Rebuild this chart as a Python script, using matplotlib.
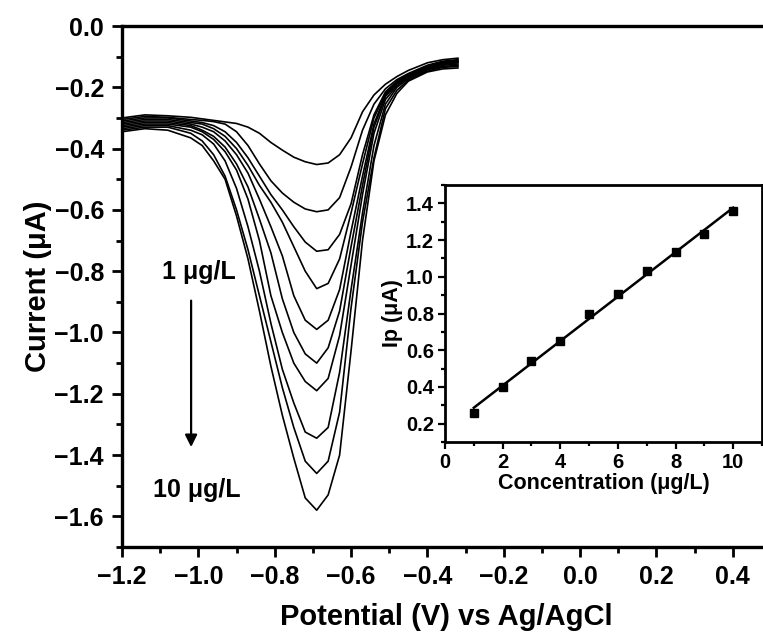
import matplotlib
matplotlib.use("Agg")
import matplotlib.pyplot as plt
import numpy as np
from matplotlib.ticker import MultipleLocator

plt.rcParams['font.family'] = ['Liberation Sans', 'DejaVu Sans']
plt.rcParams['font.weight'] = 'bold'
plt.rcParams['axes.labelweight'] = 'bold'

# potential grid (V vs Ag/AgCl)
potential = [-1.2, -1.14, -1.08, -1.02, -0.99, -0.96, -0.93, -0.90, -0.87, -0.84, -0.81, -0.78, -0.75,
             -0.72, -0.69, -0.66, -0.63, -0.60, -0.57, -0.54, -0.51, -0.48, -0.45, -0.40, -0.36, -0.32]

# DPV currents (uA), 1 ug/L ... 10 ug/L
c1 = [-0.300, -0.290, -0.293, -0.298, -0.303, -0.308, -0.313, -0.318, -0.330, -0.350, -0.380, -0.405, -0.428,
      -0.443, -0.452, -0.447, -0.420, -0.365, -0.280, -0.225, -0.190, -0.165, -0.145, -0.120, -0.110, -0.105]
c2 = [-0.305, -0.295, -0.298, -0.305, -0.308, -0.312, -0.320, -0.345, -0.390, -0.450, -0.505, -0.545, -0.575,
      -0.597, -0.606, -0.600, -0.560, -0.460, -0.340, -0.255, -0.205, -0.175, -0.155, -0.128, -0.115, -0.110]
c3 = [-0.310, -0.300, -0.300, -0.310, -0.315, -0.325, -0.345, -0.380, -0.430, -0.490, -0.550, -0.600, -0.655,
      -0.705, -0.735, -0.730, -0.680, -0.580, -0.420, -0.290, -0.215, -0.180, -0.158, -0.130, -0.117, -0.112]
c4 = [-0.315, -0.305, -0.305, -0.315, -0.320, -0.335, -0.360, -0.400, -0.455, -0.520, -0.575, -0.640, -0.720,
      -0.800, -0.857, -0.840, -0.760, -0.610, -0.450, -0.300, -0.220, -0.183, -0.160, -0.133, -0.120, -0.115]
c5 = [-0.320, -0.310, -0.310, -0.320, -0.330, -0.345, -0.375, -0.420, -0.480, -0.565, -0.655, -0.750, -0.880,
      -0.960, -0.990, -0.960, -0.860, -0.670, -0.490, -0.320, -0.225, -0.187, -0.162, -0.135, -0.123, -0.118]
c6 = [-0.325, -0.315, -0.315, -0.325, -0.340, -0.360, -0.395, -0.450, -0.525, -0.630, -0.740, -0.890, -1.000,
      -1.070, -1.100, -1.050, -0.930, -0.720, -0.520, -0.330, -0.230, -0.190, -0.165, -0.137, -0.125, -0.120]
c7 = [-0.330, -0.320, -0.320, -0.330, -0.345, -0.370, -0.410, -0.470, -0.565, -0.700, -0.880, -1.000, -1.100,
      -1.160, -1.190, -1.150, -1.010, -0.780, -0.550, -0.350, -0.240, -0.195, -0.168, -0.140, -0.128, -0.124]
c8 = [-0.335, -0.325, -0.325, -0.340, -0.355, -0.385, -0.440, -0.530, -0.655, -0.800, -0.970, -1.120, -1.230,
      -1.325, -1.345, -1.310, -1.130, -0.860, -0.610, -0.390, -0.255, -0.200, -0.172, -0.143, -0.132, -0.128]
c9 = [-0.340, -0.330, -0.330, -0.350, -0.375, -0.420, -0.490, -0.600, -0.730, -0.880, -1.030, -1.180, -1.310,
      -1.420, -1.460, -1.420, -1.260, -0.920, -0.640, -0.430, -0.270, -0.210, -0.176, -0.147, -0.135, -0.132]
c10 = [-0.345, -0.335, -0.340, -0.365, -0.390, -0.440, -0.500, -0.620, -0.760, -0.930, -1.110, -1.270, -1.410,
       -1.540, -1.580, -1.530, -1.400, -1.060, -0.700, -0.440, -0.290, -0.220, -0.180, -0.150, -0.140, -0.137]
curves = [c1, c2, c3, c4, c5, c6, c7, c8, c9, c10]

# calibration inset
conc = [1, 2, 3, 4, 5, 6, 7, 8, 9, 10]
ip = [0.26, 0.40, 0.54, 0.65, 0.797, 0.907, 1.03, 1.137, 1.235, 1.36]

fig = plt.figure(figsize=(7.63, 6.42), dpi=100)
W, H = 763, 642
ax = fig.add_axes([122 / W, 1 - 547 / H, (771 - 122) / W, (547 - 26) / H])

for c in curves:
    ax.plot(potential, c, color='black', lw=1.2)

ax.set_xlim(-1.2, 0.5)
ax.set_ylim(-1.7, 0.0)
ax.xaxis.set_major_locator(MultipleLocator(0.2))
ax.xaxis.set_minor_locator(MultipleLocator(0.1))
ax.yaxis.set_major_locator(MultipleLocator(0.2))
ax.yaxis.set_minor_locator(MultipleLocator(0.1))
ax.tick_params(which='both', direction='out', width=2.0, labelsize=18, top=False, right=False)
ax.tick_params(which='major', length=7, pad=6)
ax.tick_params(which='minor', length=4)
for s in ax.spines.values():
    s.set_linewidth(2.4)
ax.set_xlabel('Potential (V) vs Ag/AgCl', fontsize=21, labelpad=10)
ax.set_ylabel('Current (\u03bcA)', fontsize=21, labelpad=2)

ax.text(-0.998, -0.803, '1 \u03bcg/L', fontsize=18, ha='center', va='center')
ax.text(-1.005, -1.514, '10 \u03bcg/L', fontsize=18, ha='center', va='center')
ax.annotate('', xy=(-1.019, -1.383), xytext=(-1.019, -0.887),
            arrowprops=dict(arrowstyle='-|>', color='black', lw=1.6, mutation_scale=18))

# inset
axi = fig.add_axes([445 / W, 1 - 442 / H, (762 - 445) / W, (442 - 185) / H])
slope, icpt = np.polyfit(conc, ip, 1)
xf = np.array([conc[0], conc[-1]])
axi.plot(xf, slope * xf + icpt, color='black', lw=1.8)
axi.plot(conc, ip, 's', color='black', ms=5.5)
axi.set_xlim(0, 11)
axi.set_ylim(0.1, 1.5)
axi.xaxis.set_major_locator(MultipleLocator(2))
axi.xaxis.set_minor_locator(MultipleLocator(1))
axi.yaxis.set_major_locator(MultipleLocator(0.2))
axi.yaxis.set_minor_locator(MultipleLocator(0.1))
axi.tick_params(which='both', direction='out', width=1.6, labelsize=14.5, top=False, right=False)
axi.tick_params(which='major', length=5, pad=3)
axi.tick_params(which='minor', length=3)
for s in axi.spines.values():
    s.set_linewidth(2.0)
axi.set_xlabel('Concentration (\u03bcg/L)', fontsize=15.5, labelpad=1)
axi.set_ylabel('Ip (\u03bcA)', fontsize=15.5, labelpad=2)

fig.savefig('out.png', dpi=100)
